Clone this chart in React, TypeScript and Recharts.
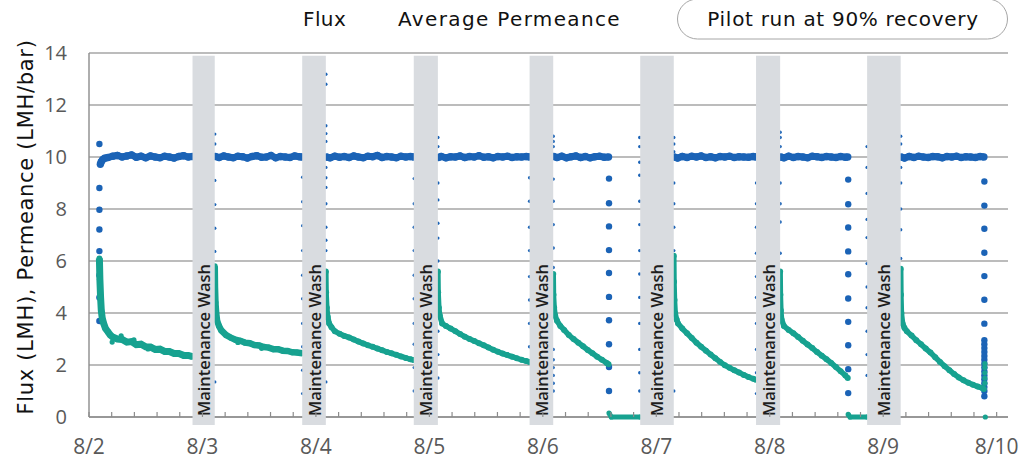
import React from 'react'
import {
  ScatterChart,
  Scatter,
  XAxis,
  YAxis,
  CartesianGrid,
  ReferenceArea,
} from 'recharts'

// hours since 8/2 00:00 -> value
type P = [number, number][]

const dayLabels = ['8/2', '8/3', '8/4', '8/5', '8/6', '8/7', '8/8', '8/9', '8/10']
const yTicks = [0, 2, 4, 6, 8, 10, 12, 14]

// maintenance wash windows (hours)
const washStart = [21.9, 45.1, 68.7, 93.2, 116.6, 141.1, 164.6]
const washEnd = [26.6, 50.1, 73.8, 98.2, 123.7, 146.2, 171.7]

// === FLUX (LMH) ===
const flux1: P = [[2.4,9.72],[2.6,9.82],[2.9,9.9],[3.3,9.95],[4,9.98],[5,10.03],[6,10.06],[7,10.0],[8,10.04],[9,10.08],[10,9.99],[11,10.03],[12,9.97],[13,10.04],[14,10.0],[15,9.97],[16,10.03],[17,10.0],[18,9.96],[19,10.02],[20,10.05],[21,10.0],[21.9,10.02]]
const flux2: P = [[26.7,10.02],[27.5,9.98],[28.5,10.04],[29.5,10.0],[30.5,9.97],[31.5,10.03],[32.5,10.01],[33.5,9.96],[34.5,10.02],[35.5,10.05],[36.5,9.99],[37.5,10.0],[38.5,10.06],[39.5,9.97],[40.5,10.02],[41.5,10.0],[42.5,9.98],[43.5,10.04],[44.5,10.01],[45.1,10.0]]
const flux3: P = [[50.2,10.0],[51,9.97],[52,10.03],[53,9.99],[54,10.02],[55,9.98],[56,10.04],[57,10.0],[58,9.97],[59,10.03],[60,10.01],[61,10.06],[62,9.98],[63,10.02],[64,10.0],[65,9.97],[66,10.03],[67,10.0],[68,10.02],[68.7,10.0]]
const flux4: P = [[73.9,9.98],[74.5,10.02],[75.5,9.97],[76.5,10.01],[77.5,10.0],[78.5,10.04],[79.5,9.98],[80.5,10.02],[81.5,10.0],[82.5,10.05],[83.5,9.99],[84.5,10.01],[85.5,9.97],[86.5,10.02],[87.5,10.0],[88.5,10.03],[89.5,9.98],[90.5,10.01],[91.5,10.0],[92.5,10.02],[93.2,10.0]]
const flux5: P = [[98.3,10.02],[99,9.98],[100,10.03],[101,9.97],[102,10.01],[103,10.04],[104,9.98],[105,10.02],[106,9.97],[107,10.01],[108,10.03],[109,9.99],[109.9,10.0]]
const flux6: P = [[123.8,10.0],[124.5,9.96],[125.5,10.02],[126.5,9.98],[127.5,10.03],[128.5,10.0],[129.5,10.04],[130.5,9.98],[131.5,10.01],[132.5,9.97],[133.5,10.02],[134.5,10.0],[135.5,10.03],[136.5,9.98],[137.5,10.01],[138.5,10.0],[139.5,9.99],[140.5,10.02],[141.1,10.0]]
const flux7: P = [[146.3,10.0],[147,9.97],[148,10.03],[149,9.98],[150,10.02],[151,10.0],[152,9.97],[153,10.03],[154,10.01],[155,9.98],[156,10.02],[157,10.0],[158,9.98],[159,10.02],[160,9.99],[160.5,10.0]]
const flux8: P = [[171.8,10.0],[172.5,9.96],[173.5,10.02],[174.5,9.98],[175.5,10.03],[176.5,10.0],[177.5,9.98],[178.5,10.02],[179.5,10.01],[180.5,9.97],[181.5,10.02],[182.5,10.0],[183.5,10.03],[184.5,9.98],[185.5,10.01],[186.5,10.0],[187.5,9.98],[188.5,10.02],[189.3,10.0]]

// start-up / shut-down readings
const fluxRamp: P = [
  [2.2,10.5],[2.2,8.81],[2.2,7.97],[2.2,7.21],[2.2,6.38],[2.2,5.45],[2.2,4.6],[2.2,3.69],
  [110,9.17],[110,8.22],[110,7.33],[110,6.42],[110,5.54],[110,4.62],[110,3.72],[110,2.8],[110,1.92],[110,1.0],
  [160.6,9.13],[160.6,8.18],[160.6,7.29],[160.6,6.37],[160.6,5.49],[160.6,4.56],[160.6,3.66],[160.6,2.76],[160.6,1.84],[160.6,0.92],
  [189.4,9.06],[189.4,8.13],[189.4,7.24],[189.4,6.32],[189.4,5.42],[189.4,4.51],[189.4,3.59],[189.4,2.95],[189.4,2.8],[189.4,2.65],[189.4,2.5],[189.4,2.35],[189.4,2.2],[189.4,2.05],[189.4,1.9],[189.4,1.75],[189.4,1.6],[189.4,1.45],[189.4,1.3],[189.4,1.15],[189.4,1.0],[189.4,0.8],
]

// sparse readings at the wash edges
const fluxEdge: P = [
  [26.6,10.88],[26.6,10.5],[26.6,9.1],[26.6,8.17],[26.6,7.26],[26.6,6.37],[26.6,5.45],[26.6,4.55],[26.6,1.35],
  [45.2,9.22],[45.2,8.28],[45.2,7.36],[45.2,6.4],[45.2,5.45],[45.2,4.55],[45.2,3.6],[45.2,2.7],[45.2,1.8],[45.2,0.9],
  [50.1,13.18],[50.1,12.8],[50.1,11.2],[50.1,10.9],[50.1,10.6],[50.1,9.6],[50.1,9.2],[50.1,8.83],[50.1,8.2],[50.1,7.3],[50.1,6.8],[50.1,6.4],[50.1,5.64],[50.1,4.7],[50.1,3.8],[50.1,1.35],
  [68.8,9.17],[68.8,8.2],[68.8,7.3],[68.8,6.4],[68.8,5.45],[68.8,4.55],[68.8,3.6],[68.8,2.8],[68.8,1.9],[68.8,1.0],
  [73.8,10.75],[73.8,10.4],[73.8,9.0],[73.8,8.35],[73.8,7.45],[73.8,6.88],[73.8,6.0],[73.8,5.2],[73.8,4.2],[73.8,3.3],[73.8,2.4],[73.8,1.5],
  [93.2,9.2],[93.2,8.3],[93.2,7.3],[93.2,6.4],[93.2,5.4],[93.2,4.5],[93.2,3.6],[93.2,2.7],
  [98.2,10.8],[98.2,10.6],[98.2,10.4],[98.2,9.15],[98.2,8.3],[98.2,7.4],[98.2,6.5],[98.2,5.75],[98.2,5.0],[98.2,3.9],[98.2,2.6],[98.2,2.2],[98.2,1.9],[98.2,1.6],[98.2,1.3],[98.2,1.0],
  [116.5,10.75],[116.5,10.4],[116.5,9.8],[116.5,9.3],[116.5,8.3],[116.5,7.4],[116.5,6.4],[116.5,5.5],[116.5,4.6],[116.5,3.6],[116.5,2.6],[116.5,1.7],[116.5,1.0],
  [123.7,10.75],[123.7,10.5],[123.7,10.2],[123.7,9.0],[123.7,8.2],[123.7,7.3],[123.7,6.4],[123.7,5.2],[123.7,1.0],
  [141.2,9.0],[141.2,8.2],[141.2,7.3],[141.2,6.3],[141.2,5.4],[141.2,4.6],[141.2,3.6],[141.2,2.6],[141.2,1.7],[141.2,0.9],
  [146.2,10.95],[146.2,10.75],[146.2,10.4],[146.2,9.0],[146.2,8.2],[146.2,7.5],[146.2,6.3],[146.2,5.6],[146.2,4.4],
  [164.6,10.4],[164.6,9.6],[164.6,8.6],[164.6,7.6],[164.6,6.9],[164.6,5.9],[164.6,5.0],[164.6,4.2],[164.6,3.3],[164.6,2.4],[164.6,1.6],
  [171.7,10.8],[171.7,10.5],[171.7,9.6],[171.7,9.0],[171.7,8.0],[171.7,7.2],[171.7,6.1],[171.7,5.2],
]

// === AVERAGE PERMEANCE (LMH/bar) ===
const perm1: P = [[2.2,6.1],[2.3,5.3],[2.45,4.6],[2.6,4.1],[2.8,3.8],[3.1,3.6],[3.5,3.4],[4,3.28],[4.5,3.15],[5,3.08],[6,3.0],[7,2.98],[8,2.88],[9,2.9],[10,2.78],[11,2.8],[12,2.7],[13,2.69],[14,2.6],[15,2.61],[16,2.52],[17,2.52],[18,2.44],[19,2.44],[20,2.37],[21,2.37],[21.9,2.32]]
const perm2: P = [[26.6,5.8],[26.65,5.0],[26.75,4.4],[26.9,4.0],[27.1,3.7],[27.5,3.5],[28,3.33],[29,3.15],[30,3.05],[31,2.97],[32,2.93],[33,2.86],[34,2.84],[35,2.77],[36,2.75],[37,2.69],[38,2.67],[39,2.61],[40,2.61],[41,2.55],[42,2.54],[43,2.49],[44,2.48],[45.1,2.45]]
const perm3: P = [[50.1,5.6],[50.15,4.8],[50.3,4.2],[50.5,3.85],[50.8,3.6],[51.3,3.45],[52,3.3],[53,3.2],[54,3.12],[55,3.06],[56,2.98],[57,2.9],[58,2.83],[59,2.76],[60,2.7],[61,2.63],[62,2.57],[63,2.5],[64,2.45],[65,2.39],[66,2.33],[67,2.27],[68,2.22],[68.7,2.19]]
const perm4: P = [[73.8,5.6],[73.85,4.8],[74,4.2],[74.2,3.9],[74.7,3.6],[75.5,3.5],[76.5,3.4],[77.5,3.3],[78.5,3.19],[79.5,3.09],[80.5,3.0],[81.5,2.92],[82.5,2.84],[83.5,2.76],[84.5,2.67],[85.5,2.59],[86.5,2.51],[87.5,2.44],[88.5,2.38],[89.5,2.32],[90.5,2.26],[91.5,2.2],[92.5,2.15],[93.2,2.12]]
const perm5: P = [[98.2,5.5],[98.25,4.7],[98.4,4.2],[98.6,3.9],[99,3.7],[99.7,3.5],[100.5,3.35],[101.5,3.15],[102.5,3.0],[103.5,2.86],[104.5,2.72],[105.5,2.58],[106.5,2.45],[107.5,2.32],[108.5,2.2],[109.5,2.08],[109.9,2.03]]
const perm6: P = [[123.7,6.2],[123.75,5.2],[123.85,4.5],[124,4.0],[124.3,3.75],[124.6,3.6],[125.5,3.4],[126.5,3.22],[127.5,3.04],[128.5,2.86],[129.5,2.7],[130.5,2.55],[131.5,2.4],[132.5,2.26],[133.5,2.12],[134.5,1.99],[135.5,1.89],[136.5,1.8],[137.5,1.71],[138.5,1.62],[139.5,1.54],[140.5,1.47],[141.1,1.43]]
const perm7: P = [[146.2,5.6],[146.25,4.7],[146.35,4.1],[146.5,3.75],[147,3.5],[148,3.35],[149,3.22],[150,3.08],[151,2.93],[152,2.79],[153,2.65],[154,2.5],[155,2.36],[156,2.22],[157,2.08],[158,1.92],[159,1.76],[160,1.6],[160.5,1.5]]
const perm8: P = [[171.7,5.7],[171.75,4.7],[171.85,4.0],[172.1,3.6],[172.5,3.42],[173,3.3],[174,3.13],[175,2.95],[176,2.8],[177,2.63],[178,2.48],[179,2.3],[180,2.12],[181,1.95],[182,1.8],[183,1.65],[184,1.52],[185,1.41],[186,1.32],[187,1.24],[188,1.17],[189,1.11],[189.3,1.08]]

// shut-down (permeance reads 0)
const permZero1: P = [[110,0.15],[110.5,0],[116.6,0]]
const permZero2: P = [[160.6,0.1],[161,0],[164.6,0]]
const permSparse: P = [[4.9,2.88],[6.8,3.12],[9.5,2.97],[12.5,2.62],[31.5,2.87],[36.5,2.64],[189.5,1.3],[189.5,1.5],[189.5,1.7],[189.5,1.9],[189.5,2.05],[189.6,0]]

const FLUX = '#1b63b6'
const PERM = '#17a290'
const GRID = '#a6a6a6'
const AXIS = '#8c8c8c'
const TICK = '#595959'
const WASH = '#d9dce0'

const fluxRuns = [flux1, flux2, flux3, flux4, flux5, flux6, flux7, flux8]
const permRuns = [perm1, perm2, perm3, perm4, perm5, perm6, perm7, perm8]
const permZeros = [permZero1, permZero2]
// first two runs are noisier, draw them a bit thicker
const permWidth = [7, 6.5, 5.5, 5.5, 5.5, 5.5, 5.5, 5.5]

const pts = (a: P) => a.map(([h, v]) => ({ h, v }))
const dot = (fill: string, r: number) => (p: any) =>
  <circle cx={p.cx} cy={p.cy} r={r} fill={fill} />

// minor ticks every 0.2 day, label on whole days
const xTicks: number[] = []
for (let i = 0; i <= 40; i++) xTicks.push(+(i * 4.8).toFixed(1))

const XTick = ({ x, y, payload }: any) => {
  const day = payload.value / 24
  const whole = Math.abs(day - Math.round(day)) < 0.01
  return (
    <g>
      <line x1={x} x2={x} y1={y - 5} y2={y} stroke={AXIS} strokeWidth={1.2} />
      {whole && (
        <text x={x} y={y + 37} textAnchor="middle" fill={TICK} fontSize={21} fontFamily="Open Sans">
          {dayLabels[Math.round(day)]}
        </text>
      )}
    </g>
  )
}

const WashLabel = (props: any) => {
  const vb = props.viewBox || {}
  const cx = vb.x + vb.width / 2
  const by = 416
  return (
    <text
      x={cx}
      y={by}
      transform={`rotate(-90 ${cx} ${by})`}
      textAnchor="start"
      dominantBaseline="central"
      fontSize={16.5}
      fontWeight={600}
      fontFamily="Open Sans"
      fill="#1e1e1e"
    >
      Maintenance Wash
    </text>
  )
}

export default function App() {
  return (
    <div style={{ position: 'relative', width: 1035, height: 462, background: '#fff' }}>
      <style>{`body{margin:0}`}</style>
      <ScatterChart width={1035} height={462} margin={{ top: 53, right: 27, bottom: 15, left: 29 }}>
        <CartesianGrid vertical={false} stroke={GRID} strokeWidth={1.4} />
        <XAxis
          type="number"
          dataKey="h"
          domain={[0, 194.4]}
          ticks={xTicks}
          interval={0}
          height={30}
          axisLine={{ stroke: AXIS, strokeWidth: 1.4 }}
          tickLine={false}
          tickSize={0}
          tickMargin={0}
          tick={<XTick />}
        />
        <YAxis
          type="number"
          dataKey="v"
          domain={[0, 14]}
          ticks={yTicks}
          width={60}
          axisLine={{ stroke: AXIS, strokeWidth: 1.4 }}
          tickLine={false}
          tickMargin={16}
          tick={{ fill: TICK, fontSize: 20, fontFamily: 'Open Sans' }}
        />

        {fluxRuns.map((run, i) => (
          <Scatter
            key={'f' + i}
            data={pts(run)}
            fill={FLUX}
            line={{ stroke: FLUX, strokeWidth: 7 }}
            shape={dot(FLUX, 3.7)}
            isAnimationActive={false}
          />
        ))}
        <Scatter data={pts(fluxRamp)} fill={FLUX} shape={dot(FLUX, 3.2)} isAnimationActive={false} />
        <Scatter data={pts(fluxEdge)} fill={FLUX} shape={dot(FLUX, 1.7)} isAnimationActive={false} />

        {permRuns.map((run, i) => (
          <Scatter
            key={'p' + i}
            data={pts(run)}
            fill={PERM}
            line={{ stroke: PERM, strokeWidth: permWidth[i] }}
            shape={dot(PERM, 3)}
            isAnimationActive={false}
          />
        ))}
        {permZeros.map((run, i) => (
          <Scatter
            key={'z' + i}
            data={pts(run)}
            fill={PERM}
            line={{ stroke: PERM, strokeWidth: 5 }}
            shape={dot(PERM, 2.6)}
            isAnimationActive={false}
          />
        ))}
        <Scatter data={pts(permSparse)} fill={PERM} shape={dot(PERM, 2.6)} isAnimationActive={false} />

        {washStart.map((s, i) => (
          <ReferenceArea
            key={'w' + i}
            x1={s}
            x2={washEnd[i]}
            y1={-0.31}
            y2={13.89}
            ifOverflow="visible"
            fill={WASH}
            fillOpacity={1}
            stroke="none"
            zIndex={1500}
            label={<WashLabel />}
          />
        ))}
      </ScatterChart>

      <svg width={1035} height={462} style={{ position: 'absolute', left: 0, top: 0, pointerEvents: 'none' }}>
        <text x={303} y={26} fontSize={20} fontFamily="DejaVu Sans" fill="#111" letterSpacing={0.4}>Flux</text>
        <text x={398} y={26} fontSize={20} fontFamily="DejaVu Sans" fill="#111" letterSpacing={1.35}>Average Permeance</text>
        <rect x={677.5} y={-1} width={330} height={40} rx={20} fill="#fff" stroke={GRID} strokeWidth={1} />
        <text x={843} y={26} fontSize={20} fontFamily="DejaVu Sans" fill="#111" textAnchor="middle" letterSpacing={0.7}>
          Pilot run at 90% recovery
        </text>
        <text
          x={33}
          y={227}
          transform="rotate(-90 33 227)"
          fontSize={21}
          fontFamily="DejaVu Sans"
          fill="#111"
          textAnchor="middle"
          letterSpacing={0.7}
        >
          Flux (LMH), Permeance (LMH/bar)
        </text>
      </svg>
    </div>
  )
}
